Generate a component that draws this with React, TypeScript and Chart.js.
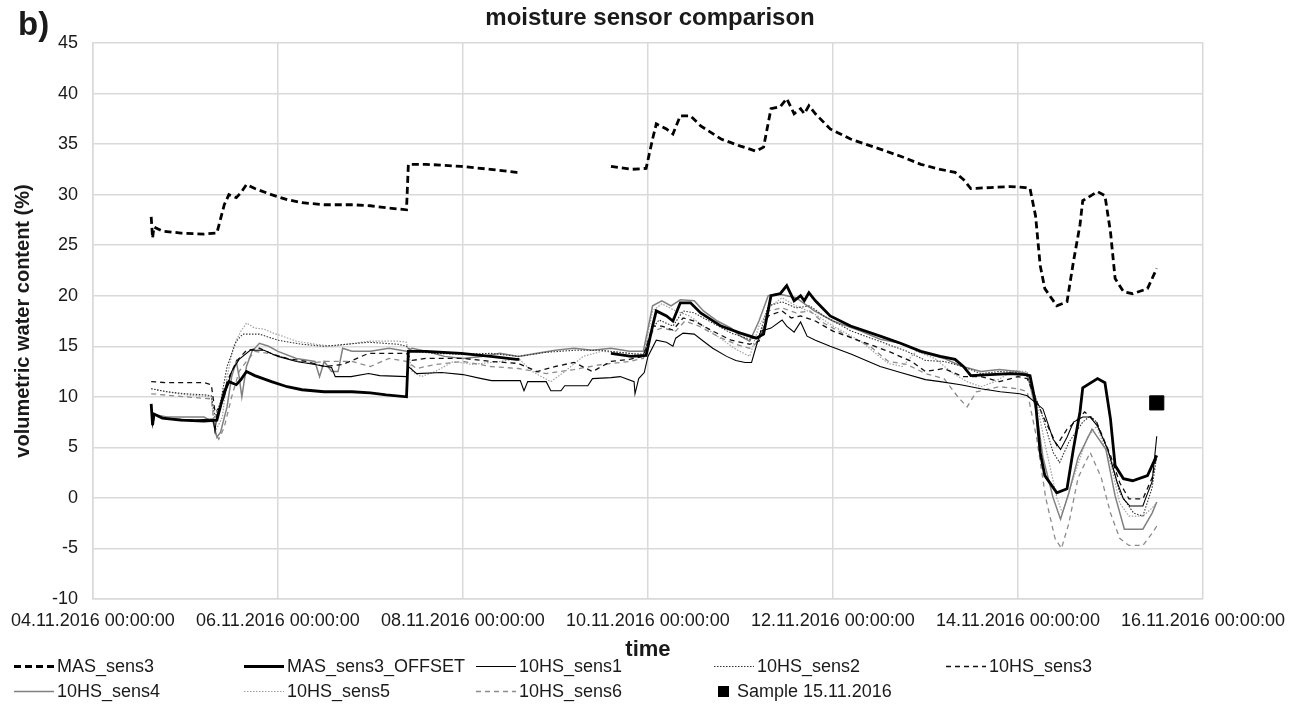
import React, { useEffect, useRef } from "react";
import { Chart, registerables } from "chart.js";

Chart.register(...registerables);

const FONT = '"Liberation Sans", Arial, Helvetica, sans-serif';
const TEXT = "#1a1a1a";
const GRID = "#d9d9d9";

const titleText = "moisture sensor comparison";
const panelLabel = "b)";
const xTitle = "time";
const yTitle = "volumetric water content (%)";

// x tick labels (every 2 days from 04.11.2016)
const xTickLabels = [
  "04.11.2016 00:00:00",
  "06.11.2016 00:00:00",
  "08.11.2016 00:00:00",
  "10.11.2016 00:00:00",
  "12.11.2016 00:00:00",
  "14.11.2016 00:00:00",
  "16.11.2016 00:00:00",
];

// time in days since 04.11.2016 00:00
const masX = [0.63, 0.645, 0.66, 0.75, 0.95, 1.2, 1.34, 1.42, 1.47, 1.55, 1.6, 1.66, 1.75, 1.93, 2.1, 2.26, 2.5, 2.8, 3.0, 3.17, 3.39, 3.41, 3.6, 3.98, 4.3, 4.58, 4.61, 5.1, 5.6, 5.82, 5.98, 6.05, 6.09, 6.2, 6.27, 6.35, 6.46, 6.57, 6.79, 7.0, 7.17, 7.25, 7.33, 7.43, 7.5, 7.58, 7.65, 7.69, 7.74, 7.81, 7.97, 8.19, 8.51, 8.73, 8.95, 9.16, 9.32, 9.41, 9.49, 9.7, 9.92, 10.08, 10.13, 10.19, 10.24, 10.29, 10.42, 10.53, 10.6, 10.67, 10.7, 10.86, 10.94, 11.0, 11.05, 11.14, 11.24, 11.4, 11.5];
const masY = [27.8, 25.7, 26.8, 26.4, 26.2, 26.1, 26.2, 29.0, 30.0, 29.7, 30.2, 31.0, 30.6, 30.0, 29.5, 29.2, 29.0, 29.0, 28.9, 28.7, 28.5, 33.0, 33.0, 32.8, 32.5, 32.2, 32.2, null, 32.8, 32.5, 32.6, 35.5, 37.0, 36.5, 36.0, 37.8, 37.8, 36.8, 35.5, 34.8, 34.3, 34.7, 38.5, 38.7, 39.5, 38.0, 38.5, 38.0, 38.8, 38.0, 36.5, 35.5, 34.5, 33.8, 33.0, 32.5, 32.2, 31.5, 30.6, 30.7, 30.8, 30.7, 30.6, 27.9, 23.0, 20.7, 19.0, 19.4, 23.4, 27.0, 29.4, 30.3, 29.9, 26.3, 21.7, 20.4, 20.2, 20.7, 22.7];
const offsetY = [9.3, 7.2, 8.3, 7.9, 7.7, 7.6, 7.7, 10.5, 11.5, 11.2, 11.7, 12.5, 12.1, 11.5, 11.0, 10.7, 10.5, 10.5, 10.4, 10.2, 10.0, 14.5, 14.5, 14.3, 14.0, 13.7, 13.7, null, 14.3, 14.0, 14.1, 17.0, 18.5, 18.0, 17.5, 19.3, 19.3, 18.3, 17.0, 16.3, 15.8, 16.2, 20.0, 20.2, 21.0, 19.5, 20.0, 19.5, 20.3, 19.5, 18.0, 17.0, 16.0, 15.3, 14.5, 14.0, 13.7, 13.0, 12.1, 12.2, 12.3, 12.2, 12.1, 9.4, 4.5, 2.2, 0.5, 0.9, 4.9, 8.5, 10.9, 11.8, 11.4, 7.8, 3.2, 1.9, 1.7, 2.2, 4.2];

const sens1X = [0.63, 0.645, 0.67, 0.75, 0.9, 1.1, 1.3, 1.32, 1.34, 1.42, 1.5, 1.58, 1.7, 1.85, 2.0, 2.2, 2.4, 2.58, 2.62, 2.79, 2.98, 3.1, 3.39, 3.41, 3.5, 3.77, 4.0, 4.2, 4.31, 4.45, 4.62, 4.66, 4.7, 4.9, 4.95, 5.06, 5.1, 5.35, 5.4, 5.6, 5.7, 5.85, 5.86, 5.9, 5.96, 6.0, 6.09, 6.2, 6.27, 6.3, 6.38, 6.5, 6.6, 6.7, 6.85, 6.95, 7.05, 7.12, 7.17, 7.22, 7.33, 7.45, 7.5, 7.58, 7.65, 7.72, 7.81, 7.97, 8.2, 8.51, 8.73, 9.0, 9.16, 9.38, 9.6, 9.81, 10.02, 10.1, 10.27, 10.38, 10.46, 10.53, 10.6, 10.7, 10.78, 10.86, 10.97, 11.07, 11.14, 11.21, 11.35, 11.39, 11.45, 11.5];
const sens1Y = [9.2, 7.2, 8.3, 7.9, 7.8, 7.7, 7.8, 6.6, 8.2, 10.0, 12.5, 13.7, 14.6, 14.6, 14.0, 13.5, 13.2, 12.9, 12.0, 12.0, 12.3, 12.1, 12.0, 13.0, 12.3, 12.4, 12.2, 11.8, 11.6, 11.6, 11.6, 10.6, 11.5, 11.5, 10.6, 10.6, 11.1, 11.1, 11.8, 11.9, 12.0, 11.5, 10.3, 11.8, 12.4, 14.0, 15.6, 15.4, 15.0, 15.8, 16.3, 16.2, 15.5, 14.8, 14.0, 13.6, 13.4, 13.4, 15.0, 16.5, 16.8, 17.6, 17.0, 16.4, 17.4, 16.0, 15.6, 15.0, 14.2, 13.0, 12.4, 11.7, 11.5, 11.2, 10.8, 10.5, 10.3, 10.1, 8.8, 5.8, 4.8, 6.0, 7.5, 8.0, 8.0, 7.1, 4.8, 1.6, -0.1, -0.8, -0.8, 0.2, 1.6, 6.1];

const sens2X = [0.63, 0.8, 1.0, 1.2, 1.28, 1.32, 1.38, 1.45, 1.55, 1.62, 1.8, 2.0, 2.26, 2.5, 2.98, 3.3, 3.39, 3.45, 3.7, 4.0, 4.3, 4.6, 4.9, 5.2, 5.5, 5.8, 5.95, 6.05, 6.12, 6.27, 6.38, 6.5, 6.7, 6.9, 7.1, 7.2, 7.3, 7.45, 7.6, 7.75, 7.9, 8.2, 8.5, 8.8, 9.0, 9.2, 9.4, 9.6, 9.8, 10.0, 10.1, 10.25, 10.38, 10.45, 10.55, 10.7, 10.78, 10.85, 11.0, 11.1, 11.25, 11.35, 11.45, 11.5];
const sens2Y = [10.8, 10.5, 10.3, 10.2, 10.1, 8.0, 9.5, 13.0, 15.5, 16.2, 16.2, 15.6, 15.2, 15.0, 15.4, 15.2, 15.0, 14.5, 14.3, 14.2, 14.3, 14.0, 14.4, 14.6, 14.6, 14.3, 14.2, 16.8, 17.6, 17.0, 18.5, 18.3, 17.3, 16.3, 15.7, 16.0, 19.0, 19.4, 18.8, 19.0, 18.0, 16.5, 15.5, 14.5, 13.6, 13.5, 13.0, 12.3, 12.5, 12.4, 12.0, 8.5, 4.5, 3.5, 5.5, 7.5, 8.1, 7.5, 4.0, 0.5, -1.5, -1.8, 1.0, 4.2];

const sens3X = [0.63, 0.8, 1.0, 1.2, 1.28, 1.32, 1.38, 1.45, 1.55, 1.66, 1.8, 1.95, 2.1, 2.3, 2.5, 2.7, 2.98, 3.3, 3.39, 3.45, 3.6, 4.0, 4.3, 4.6, 4.8, 5.0, 5.2, 5.4, 5.6, 5.8, 5.95, 6.05, 6.15, 6.27, 6.38, 6.5, 6.7, 6.9, 7.1, 7.2, 7.3, 7.45, 7.55, 7.65, 7.81, 8.0, 8.3, 8.6, 8.85, 9.0, 9.2, 9.4, 9.6, 9.8, 10.0, 10.1, 10.27, 10.42, 10.53, 10.65, 10.72, 10.85, 11.0, 11.1, 11.2, 11.35, 11.45, 11.5];
const sens3Y = [11.5, 11.4, 11.4, 11.4, 11.2, 8.5, 9.0, 11.5, 13.5, 14.6, 14.8, 14.2, 13.8, 13.5, 13.0, 13.2, 14.3, 14.3, 14.3, 13.6, 13.8, 13.8, 13.5, 13.3, 12.5, 13.0, 13.4, 12.5, 13.5, 13.7, 14.0, 17.0, 17.0, 16.6, 17.8, 17.5, 16.5, 15.6, 15.2, 15.5, 18.0, 18.5, 17.8, 18.0, 17.5, 16.5, 15.5, 14.5, 13.5, 12.5, 12.8, 12.0, 12.0, 11.5, 12.0, 11.8, 8.1, 5.2, 6.8, 7.8, 8.5, 7.5, 4.2, 1.5, -0.1, -0.1, 2.0, 4.2];

const sens4X = [0.63, 0.8, 1.0, 1.2, 1.3, 1.34, 1.38, 1.45, 1.5, 1.55, 1.58, 1.61, 1.66, 1.72, 1.8, 1.9, 2.0, 2.2, 2.4, 2.45, 2.5, 2.58, 2.65, 2.7, 2.8, 3.0, 3.2, 3.39, 3.45, 3.6, 3.8, 4.0, 4.2, 4.4, 4.6, 4.8, 5.0, 5.2, 5.4, 5.6, 5.8, 5.95, 6.05, 6.15, 6.25, 6.35, 6.5, 6.6, 6.75, 6.9, 7.0, 7.1, 7.2, 7.3, 7.4, 7.5, 7.6, 7.8, 8.0, 8.3, 8.51, 8.73, 9.0, 9.2, 9.4, 9.6, 9.8, 10.0, 10.1, 10.2, 10.27, 10.38, 10.46, 10.55, 10.65, 10.8, 10.95, 11.05, 11.15, 11.35, 11.45, 11.5];
const sens4Y = [8.3, 8.0, 8.0, 8.0, 7.5, 6.0, 6.5, 9.0, 12.0, 13.5, 12.0, 10.0, 13.0, 14.5, 15.3, 15.0, 14.5, 13.8, 13.5, 12.0, 13.5, 12.5, 12.5, 14.8, 14.5, 14.5, 14.8, 14.5, 14.8, 14.5, 14.0, 13.8, 14.0, 14.3, 14.0, 14.3, 14.6, 14.8, 14.6, 14.8, 14.5, 14.5, 19.0, 19.5, 19.0, 19.6, 19.5, 18.5, 17.5, 16.8, 16.0, 15.5, 17.5, 20.0, 20.2, 20.0, 19.8, 18.5, 17.5, 16.5, 15.7, 15.3, 14.3, 13.8, 13.0, 12.5, 12.7, 12.5, 12.3, 8.5, 4.0, 0.0, -2.1, 0.5, 4.0, 6.8, 4.8, 0.2, -3.1, -3.1, -1.5, -0.4];

const sens5X = [0.63, 0.8, 1.0, 1.28, 1.32, 1.4, 1.45, 1.52, 1.6, 1.66, 1.75, 1.85, 1.95, 2.05, 2.2, 2.4, 2.6, 2.98, 3.3, 3.39, 3.45, 3.55, 3.7, 3.9, 4.1, 4.4, 4.6, 4.75, 4.95, 5.1, 5.3, 5.5, 5.8, 5.95, 6.05, 6.15, 6.3, 6.45, 6.6, 6.75, 6.95, 7.1, 7.2, 7.33, 7.45, 7.6, 7.8, 8.0, 8.3, 8.5, 8.6, 8.75, 8.9, 9.1, 9.3, 9.45, 9.6, 9.75, 9.95, 10.1, 10.2, 10.3, 10.42, 10.48, 10.6, 10.75, 10.85, 11.0, 11.1, 11.2, 11.35, 11.45, 11.5];
const sens5Y = [10.8, 10.5, 10.2, 10.0, 6.5, 8.0, 12.0, 15.0, 16.5, 17.3, 16.8, 16.7, 16.3, 16.0, 15.5, 15.2, 15.0, 15.5, 15.5, 15.4, 12.5, 12.0, 12.5, 13.5, 13.2, 13.5, 13.8, 12.5, 11.5, 12.5, 14.0, 14.5, 14.3, 14.0, 18.5, 19.2, 18.5, 18.0, 17.0, 16.0, 14.7, 14.0, 17.0, 19.0, 19.8, 19.0, 18.2, 17.0, 15.5, 14.0, 13.3, 13.0, 14.5, 13.8, 12.3, 11.5, 11.0, 11.5, 12.6, 12.5, 9.5, 5.0, 0.0, -1.5, 2.0, 6.0, 7.1, 3.5, -0.5, -1.8, -1.8, -1.0, -0.5];

const sens6X = [0.63, 1.0, 1.28, 1.32, 1.36, 1.42, 1.5, 1.58, 1.66, 1.75, 1.9, 2.1, 2.3, 2.5, 2.8, 3.0, 3.2, 3.39, 3.5, 3.7, 4.0, 4.3, 4.6, 4.9, 5.2, 5.5, 5.8, 5.95, 6.05, 6.15, 6.3, 6.4, 6.55, 6.75, 6.95, 7.1, 7.2, 7.3, 7.45, 7.6, 7.75, 7.9, 8.1, 8.4, 8.6, 8.8, 9.0, 9.2, 9.35, 9.45, 9.55, 9.8, 10.0, 10.1, 10.2, 10.3, 10.4, 10.47, 10.55, 10.65, 10.78, 10.9, 11.0, 11.1, 11.2, 11.35, 11.45, 11.5];
const sens6Y = [10.3, 10.0, 9.8, 6.5, 5.8, 7.0, 10.0, 12.5, 13.5, 14.5, 14.3, 13.8, 13.3, 13.5, 13.5, 13.0, 13.8, 13.5, 12.8, 13.2, 13.5, 13.0, 12.8, 12.3, 12.7, 13.2, 13.5, 13.8, 16.5, 16.8, 16.5, 17.5, 17.0, 16.0, 15.2, 14.8, 15.5, 18.5, 18.8, 18.3, 18.5, 17.3, 16.3, 15.0, 13.5, 13.2, 12.3, 11.8, 10.0, 9.0, 10.5, 11.0, 10.8, 10.5, 6.0, 0.0, -4.0, -5.0, -2.5, 2.0, 4.5, 2.0, -1.5, -4.0, -4.7, -4.7, -3.5, -2.8];

const sampleX = [11.5];
const sampleY = [9.4];

const seriesNames = [
  "MAS_sens3",
  "MAS_sens3_OFFSET",
  "10HS_sens1",
  "10HS_sens2",
  "10HS_sens3",
  "10HS_sens4",
  "10HS_sens5",
  "10HS_sens6",
  "Sample 15.11.2016",
];

function zip(xs: number[], ys: (number | null)[]) {
  return xs.map((x, i) => ({ x, y: ys[i] }));
}

const LEGEND_COLS = [14, 244, 476, 714, 946];
const LEGEND_ROWS = [666, 691];

const textPlugin = {
  id: "texts",
  afterDraw(chart: any) {
    const ctx = chart.ctx;
    ctx.save();
    ctx.fillStyle = TEXT;
    ctx.textBaseline = "middle";
    ctx.textAlign = "center";
    ctx.font = `bold 24px ${FONT}`;
    ctx.fillText(titleText, 650, 18);
    ctx.textAlign = "left";
    ctx.textBaseline = "alphabetic";
    ctx.font = `bold 33px ${FONT}`;
    ctx.fillText(panelLabel, 18, 35);
    ctx.restore();
  },
};

const legendPlugin = {
  id: "gridLegend",
  afterDraw(chart: any) {
    const ctx = chart.ctx;
    ctx.save();
    ctx.font = `18px ${FONT}`;
    ctx.textBaseline = "middle";
    ctx.textAlign = "left";
    chart.data.datasets.forEach((ds: any, i: number) => {
      const x0 = LEGEND_COLS[i % 5];
      const y = LEGEND_ROWS[Math.floor(i / 5)];
      if (ds.type === "scatter") {
        ctx.fillStyle = ds.backgroundColor;
        ctx.fillRect(x0 + 4, y - 5, 11, 11);
        ctx.fillStyle = TEXT;
        ctx.fillText(ds.label, x0 + 23, y + 1);
      } else {
        ctx.strokeStyle = ds.borderColor;
        ctx.lineWidth = ds.borderWidth;
        ctx.setLineDash(ds.borderDash || []);
        ctx.beginPath();
        ctx.moveTo(x0, y + 0.5);
        ctx.lineTo(x0 + 40, y + 0.5);
        ctx.stroke();
        ctx.setLineDash([]);
        ctx.fillStyle = TEXT;
        ctx.fillText(ds.label, x0 + 43, y + 1);
      }
    });
    ctx.restore();
  },
};

export default function App() {
  const ref = useRef<HTMLCanvasElement | null>(null);

  useEffect(() => {
    if (!ref.current) return;
    const line = (label: string, data: any[], color: string, width: number, dash: number[] = []) => ({
      type: "line",
      label,
      data,
      borderColor: color,
      backgroundColor: color,
      borderWidth: width,
      borderDash: dash,
      pointRadius: 0,
      tension: 0,
      spanGaps: false,
      fill: false,
    });
    const chart = new Chart(ref.current, {
      type: "line",
      data: {
        datasets: [
          line(seriesNames[0], zip(masX, masY), "#000000", 2.8, [7, 4]),
          line(seriesNames[1], zip(masX, offsetY), "#000000", 2.8),
          line(seriesNames[2], zip(sens1X, sens1Y), "#000000", 1.1),
          line(seriesNames[3], zip(sens2X, sens2Y), "#333333", 1.1, [1.5, 1.5]),
          line(seriesNames[4], zip(sens3X, sens3Y), "#111111", 1.3, [5, 4]),
          line(seriesNames[5], zip(sens4X, sens4Y), "#808080", 1.5),
          line(seriesNames[6], zip(sens5X, sens5Y), "#a0a0a0", 1.2, [1.5, 1.5]),
          line(seriesNames[7], zip(sens6X, sens6Y), "#8c8c8c", 1.3, [5, 4]),
          {
            type: "scatter",
            label: seriesNames[8],
            data: zip(sampleX, sampleY),
            backgroundColor: "#000000",
            borderColor: "#000000",
            pointStyle: "rect",
            pointRadius: 10,
            showLine: false,
          },
        ] as any,
      },
      options: {
        animation: false,
        responsive: true,
        maintainAspectRatio: false,
        layout: { padding: { top: 43, right: 104, bottom: 46, left: 0 } },
        plugins: {
          legend: { display: false },
          title: { display: false },
          tooltip: { enabled: false },
        },
        scales: {
          x: {
            type: "linear",
            min: 0,
            max: 12,
            ticks: {
              stepSize: 2,
              autoSkip: false,
              maxRotation: 0,
              padding: 11,
              color: TEXT,
              font: { family: FONT, size: 18 },
              callback: (v: any) => xTickLabels[Math.round(Number(v) / 2)] ?? "",
            },
            grid: { color: GRID, lineWidth: 1.5, drawTicks: false },
            border: { color: GRID, width: 1.5 },
            title: {
              display: true,
              text: xTitle,
              color: TEXT,
              font: { family: FONT, size: 22, weight: "bold" },
              padding: { top: 0, bottom: 0 },
            },
            afterFit: (s: any) => {
              s.height = 64;
            },
          },
          y: {
            min: -10,
            max: 45,
            ticks: {
              stepSize: 5,
              padding: 15,
              color: TEXT,
              font: { family: FONT, size: 18 },
            },
            grid: { color: GRID, lineWidth: 1.5, drawTicks: false },
            border: { color: GRID, width: 1.5 },
            title: {
              display: true,
              text: yTitle,
              color: TEXT,
              font: { family: FONT, size: 20, weight: "bold" },
              padding: { top: 10, bottom: 0 },
            },
            afterFit: (s: any) => {
              s.width = 91;
            },
          },
        },
      } as any,
      plugins: [textPlugin, legendPlugin],
    });
    return () => chart.destroy();
  }, []);

  return (
    <div style={{ position: "absolute", left: 0, top: 0, width: 1307, height: 709, background: "#ffffff" }}>
      <canvas ref={ref} />
    </div>
  );
}
